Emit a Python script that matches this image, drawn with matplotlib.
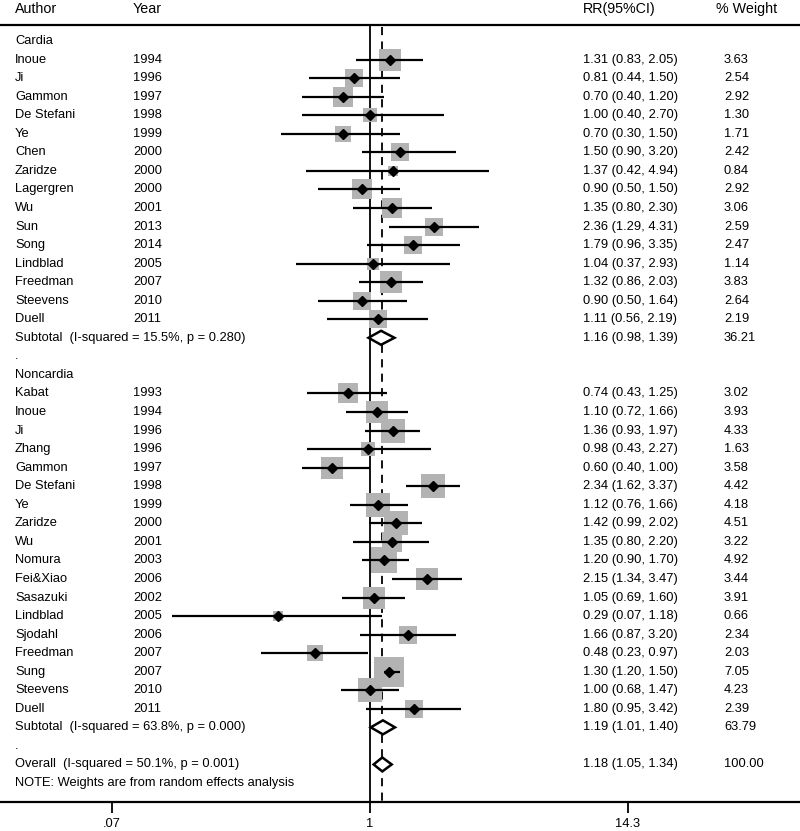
import numpy as np
import matplotlib
matplotlib.use("Agg")
import matplotlib.pyplot as plt
from matplotlib.patches import Polygon

plt.rcParams['font.family'] = ['Liberation Sans', 'DejaVu Sans']

# Cardia studies
cardia_author = ['Inoue', 'Ji', 'Gammon', 'De Stefani', 'Ye', 'Chen', 'Zaridze', 'Lagergren',
                 'Wu', 'Sun', 'Song', 'Lindblad', 'Freedman', 'Steevens', 'Duell']
cardia_year = [1994, 1996, 1997, 1998, 1999, 2000, 2000, 2000, 2001, 2013, 2014, 2005, 2007, 2010, 2011]
cardia_rr = [1.31, 0.81, 0.70, 1.00, 0.70, 1.50, 1.37, 0.90, 1.35, 2.36, 1.79, 1.04, 1.32, 0.90, 1.11]
cardia_lo = [0.83, 0.44, 0.40, 0.40, 0.30, 0.90, 0.42, 0.50, 0.80, 1.29, 0.96, 0.37, 0.86, 0.50, 0.56]
cardia_hi = [2.05, 1.50, 1.20, 2.70, 1.50, 3.20, 4.94, 1.50, 2.30, 4.31, 3.35, 2.93, 2.03, 1.64, 2.19]
cardia_w = [3.63, 2.54, 2.92, 1.30, 1.71, 2.42, 0.84, 2.92, 3.06, 2.59, 2.47, 1.14, 3.83, 2.64, 2.19]
cardia_sub = (1.16, 0.98, 1.39, 36.21, 15.5, 0.280)

# Noncardia studies
noncardia_author = ['Kabat', 'Inoue', 'Ji', 'Zhang', 'Gammon', 'De Stefani', 'Ye', 'Zaridze', 'Wu',
                    'Nomura', 'Fei&Xiao', 'Sasazuki', 'Lindblad', 'Sjodahl', 'Freedman', 'Sung',
                    'Steevens', 'Duell']
noncardia_year = [1993, 1994, 1996, 1996, 1997, 1998, 1999, 2000, 2001, 2003, 2006, 2002, 2005,
                  2006, 2007, 2007, 2010, 2011]
noncardia_rr = [0.74, 1.10, 1.36, 0.98, 0.60, 2.34, 1.12, 1.42, 1.35, 1.20, 2.15, 1.05, 0.29, 1.66,
                0.48, 1.30, 1.00, 1.80]
noncardia_lo = [0.43, 0.72, 0.93, 0.43, 0.40, 1.62, 0.76, 0.99, 0.80, 0.90, 1.34, 0.69, 0.07, 0.87,
                0.23, 1.20, 0.68, 0.95]
noncardia_hi = [1.25, 1.66, 1.97, 2.27, 1.00, 3.37, 1.66, 2.02, 2.20, 1.70, 3.47, 1.60, 1.18, 3.20,
                0.97, 1.50, 1.47, 3.42]
noncardia_w = [3.02, 3.93, 4.33, 1.63, 3.58, 4.42, 4.18, 4.51, 3.22, 4.92, 3.44, 3.91, 0.66, 2.34,
               2.03, 7.05, 4.23, 2.39]
noncardia_sub = (1.19, 1.01, 1.40, 63.79, 63.8, 0.000)

overall = (1.18, 1.05, 1.34, 100.00, 50.1, 0.001)

tick_labels = ['.07', '1', '14.3']

# layout (pixels of the 800x831 picture)
W, H = 800, 831
row0, step = 41, 18.55
axis_px = 802
px_per_ln = 74.3
x_null = 370
fs = 9.3
fs_head = 10.3

fig = plt.figure(figsize=(W / 100, H / 100), dpi=100)
ax = fig.add_axes([0, (H - axis_px) / H, 1, axis_px / H])
ax.set_xscale('log')
ax.set_xlim(np.exp(-x_null / px_per_ln), np.exp((W - x_null) / px_per_ln))
ax.set_ylim((axis_px - row0) / step, -row0 / step)
tr = ax.get_yaxis_transform()


def fx(px):
    return px / W


def row_y(px):
    return (px - row0) / step


def draw_study(y, author, year, rr, lo, hi, w):
    # grey box area follows the weight
    side = 11.56 * np.sqrt(w) * 0.72
    ax.scatter([rr], [y], marker='s', s=side ** 2, color='#b3b3b3', linewidths=0, zorder=3)
    ax.plot([lo, hi], [y, y], color='black', lw=1.6, solid_capstyle='butt', zorder=4)
    ax.plot([rr], [y], marker='D', color='black', ms=5.3, zorder=5)
    ax.text(fx(15), y, author, transform=tr, va='center', fontsize=fs)
    ax.text(fx(133), y, str(year), transform=tr, va='center', fontsize=fs)
    ax.text(fx(583), y, '%.2f (%.2f, %.2f)' % (rr, lo, hi), transform=tr, va='center', fontsize=fs)
    ax.text(fx(724), y, '%.2f' % w, transform=tr, va='center', fontsize=fs)


def draw_pooled(y, label, vals):
    rr, lo, hi, w, i2, p = vals
    h = 7 / step
    poly = Polygon([(lo, y), (rr, y - h), (hi, y), (rr, y + h)], closed=True,
                   facecolor='white', edgecolor='black', lw=1.8, zorder=6)
    ax.add_patch(poly)
    ax.text(fx(15), y, '%s  (I-squared = %.1f%%, p = %.3f)' % (label, i2, p),
            transform=tr, va='center', fontsize=fs)
    ax.text(fx(583), y, '%.2f (%.2f, %.2f)' % (rr, lo, hi), transform=tr, va='center', fontsize=fs)
    ax.text(fx(724), y, '%.2f' % w, transform=tr, va='center', fontsize=fs)


# header
hy = row_y(9)
ax.text(fx(15), hy, 'Author', transform=tr, va='center', fontsize=fs_head)
ax.text(fx(133), hy, 'Year', transform=tr, va='center', fontsize=fs_head)
ax.text(fx(583), hy, 'RR(95%CI)', transform=tr, va='center', fontsize=fs_head)
ax.text(fx(716), hy, '% Weight', transform=tr, va='center', fontsize=fs_head)
ax.plot([0, 1], [row_y(25), row_y(25)], transform=tr, color='black', lw=1.6, clip_on=False)

# null line and overall estimate line
ax.plot([1, 1], [row_y(25), row_y(axis_px)], color='black', lw=1.3, zorder=2)
ax.plot([overall[0], overall[0]], [row_y(27), row_y(axis_px)], color='black', lw=1.3,
        dashes=(4.5, 3.5), zorder=2)

y = 0
ax.text(fx(15), y, 'Cardia', transform=tr, va='center', fontsize=fs)
for i in range(len(cardia_author)):
    y += 1
    draw_study(y, cardia_author[i], cardia_year[i], cardia_rr[i], cardia_lo[i], cardia_hi[i],
               cardia_w[i])
y += 1
draw_pooled(y, 'Subtotal', cardia_sub)
y += 1
ax.text(fx(15), y, '.', transform=tr, va='center', fontsize=fs)
y += 1
ax.text(fx(15), y, 'Noncardia', transform=tr, va='center', fontsize=fs)
for i in range(len(noncardia_author)):
    y += 1
    draw_study(y, noncardia_author[i], noncardia_year[i], noncardia_rr[i], noncardia_lo[i],
               noncardia_hi[i], noncardia_w[i])
y += 1
draw_pooled(y, 'Subtotal', noncardia_sub)
y += 1
ax.text(fx(15), y, '.', transform=tr, va='center', fontsize=fs)
y += 1
draw_pooled(y, 'Overall', overall)
y += 1
ax.text(fx(15), y, 'NOTE: Weights are from random effects analysis', transform=tr,
        va='center', fontsize=fs)

# x axis
for s in ['left', 'right', 'top']:
    ax.spines[s].set_visible(False)
ax.spines['bottom'].set_linewidth(1.6)
ax.set_yticks([])
edge = np.exp((x_null - 112) / px_per_ln)
ax.set_xticks([1 / edge, 1, edge])
ax.set_xticklabels(tick_labels, fontsize=fs)
ax.minorticks_off()
ax.tick_params(axis='x', length=8, width=1.3, pad=3.5)

fig.savefig('out.png', dpi=100)
